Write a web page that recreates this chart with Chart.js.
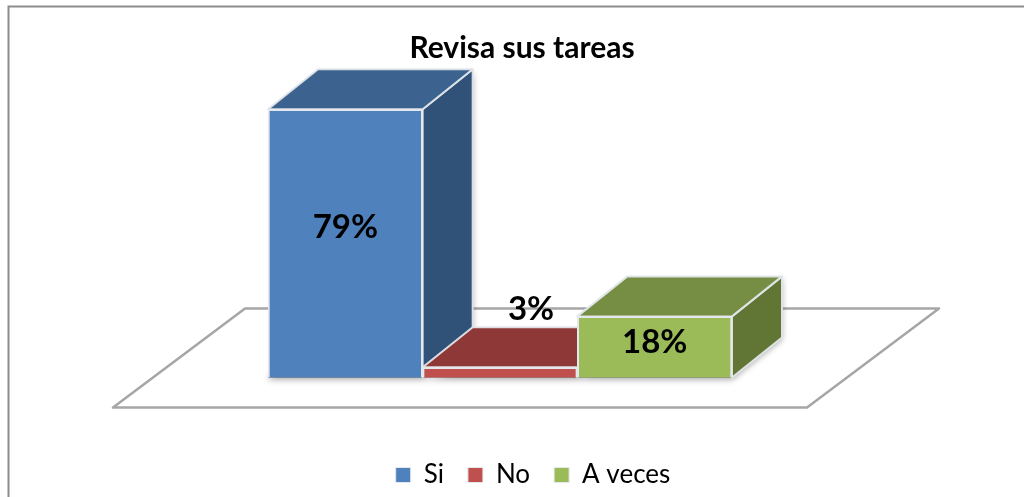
<!DOCTYPE html>
<html>
<head>
<meta charset="utf-8">
<title>Revisa sus tareas</title>
<script src="https://cdn.jsdelivr.net/npm/chart.js@4/dist/chart.umd.min.js"></script>
<style>
html, body { margin: 0; padding: 0; background: #fff; overflow: hidden; }
canvas { display: block; }
</style>
</head>
<body>
<canvas id="canvas" width="1024" height="497"></canvas>
<script>
var chartTitle = "Revisa sus tareas";
var categories = ["Si", "No", "A veces"];
var percentages = [79, 3, 18];

var frontColors = ["#4F81BD", "#C0504D", "#9BBB59"];
var topColors = ["#3C628F", "#8E3937", "#768E43"];
var sideColors = ["#315278", "#7A2F2D", "#617535"];

var FONT = "Lato, Carlito, 'Open Sans', sans-serif";
var DEPTH_X = 50;
var DEPTH_Y = 40;
// value level (on the y scale) where each percentage text sits, and its sideways nudge
var labelLevels = [44.3, 20, 10.4];
var labelNudge = [0, 31, 0];

function poly(ctx, pts, fill, stroke, width) {
    ctx.beginPath();
    ctx.moveTo(pts[0][0], pts[0][1]);
    for (var i = 1; i < pts.length; i++) {
        ctx.lineTo(pts[i][0], pts[i][1]);
    }
    ctx.closePath();
    if (fill) {
        ctx.fillStyle = fill;
        ctx.fill();
    }
    if (stroke) {
        ctx.strokeStyle = stroke;
        ctx.lineWidth = width;
        ctx.lineJoin = "round";
        ctx.stroke();
    }
}

var boxPlugin = {
    id: "box3d",
    afterLayout: function(chart) {
        // title and legend are not centred on the plot in the original
        chart.titleBlock.left += 22;
        chart.titleBlock.right += 22;
        chart.legend.left += 33;
        chart.legend.right += 33;
        chart.legend.top += 60.5;
        chart.legend.bottom += 60.5;
    },
    beforeDatasetsDraw: function(chart) {
        var ctx = chart.ctx;
        var x = chart.scales.x;
        var y = chart.scales.y;
        var base = y.getPixelForValue(0);

        // outer frame, runs off the right and bottom of the picture
        ctx.save();
        ctx.strokeStyle = "#8c8c8c";
        ctx.lineWidth = 2;
        ctx.strokeRect(8.5, 6.5, 1100, 600);

        // floor
        poly(ctx, [
            [x.left - 155, base + 30],
            [x.right + 75, base + 30],
            [x.right + 207, base - 69],
            [x.left - 23, base - 69]
        ], "#ffffff", "#a6a6a6", 2.5);

        var bars = chart.getDatasetMeta(0).data;
        for (var i = 0; i < bars.length; i++) {
            var b = bars[i].getProps(["x", "y", "base", "width"], true);
            var l = b.x - b.width / 2;
            var r = b.x + b.width / 2;
            var edge = "rgba(226,230,234,0.95)";

            // soft shadow along the ground
            ctx.save();
            ctx.shadowColor = "rgba(0,0,0,0.35)";
            ctx.shadowBlur = 6;
            ctx.shadowOffsetY = 2;
            poly(ctx, [[l, b.base], [r, b.base], [r + DEPTH_X, b.base - DEPTH_Y], [r + DEPTH_X, b.y - DEPTH_Y]], sideColors[i]);
            ctx.restore();

            poly(ctx, [
                [r, b.y],
                [r + DEPTH_X, b.y - DEPTH_Y],
                [r + DEPTH_X, b.base - DEPTH_Y],
                [r, b.base]
            ], sideColors[i], edge, 2);
            poly(ctx, [
                [l, b.y],
                [l + DEPTH_X, b.y - DEPTH_Y],
                [r + DEPTH_X, b.y - DEPTH_Y],
                [r, b.y]
            ], topColors[i], edge, 2);
        }
        ctx.restore();
    },
    afterDatasetsDraw: function(chart) {
        var ctx = chart.ctx;
        var y = chart.scales.y;
        var bars = chart.getDatasetMeta(0).data;
        ctx.save();
        ctx.fillStyle = "#000";
        ctx.font = "bold 33px " + FONT;
        ctx.textAlign = "center";
        ctx.textBaseline = "middle";
        for (var i = 0; i < bars.length; i++) {
            ctx.fillText(percentages[i] + "%", bars[i].x + labelNudge[i], y.getPixelForValue(labelLevels[i]));
        }
        ctx.restore();
    }
};

window.onload = function() {
    var ctx = document.getElementById("canvas").getContext("2d");
    new Chart(ctx, {
        type: "bar",
        data: {
            labels: categories,
            datasets: [{
                data: percentages,
                backgroundColor: frontColors,
                borderColor: "#E4E8EC",
                borderWidth: 2,
                barPercentage: 1,
                categoryPercentage: 1
            }]
        },
        options: {
            responsive: false,
            animation: false,
            layout: {
                padding: { left: 268, right: 292, top: 0, bottom: 59.5 }
            },
            scales: {
                x: { display: false },
                y: { display: false, min: 0, max: 90 }
            },
            plugins: {
                tooltip: { enabled: false },
                title: {
                    display: true,
                    text: chartTitle,
                    color: "#000",
                    font: { family: FONT, size: 30, weight: "bold" },
                    padding: { top: 30, bottom: 6 }
                },
                legend: {
                    display: true,
                    position: "bottom",
                    labels: {
                        color: "#000",
                        font: { family: FONT, size: 26 },
                        boxWidth: 15,
                        boxHeight: 15,
                        padding: 24,
                        generateLabels: function() {
                            return categories.map(function(name, i) {
                                return {
                                    text: name,
                                    fillStyle: frontColors[i],
                                    strokeStyle: "#E4E8EC",
                                    lineWidth: 1,
                                    index: i
                                };
                            });
                        }
                    }
                }
            }
        },
        plugins: [boxPlugin]
    });
};
</script>
</body>
</html>
